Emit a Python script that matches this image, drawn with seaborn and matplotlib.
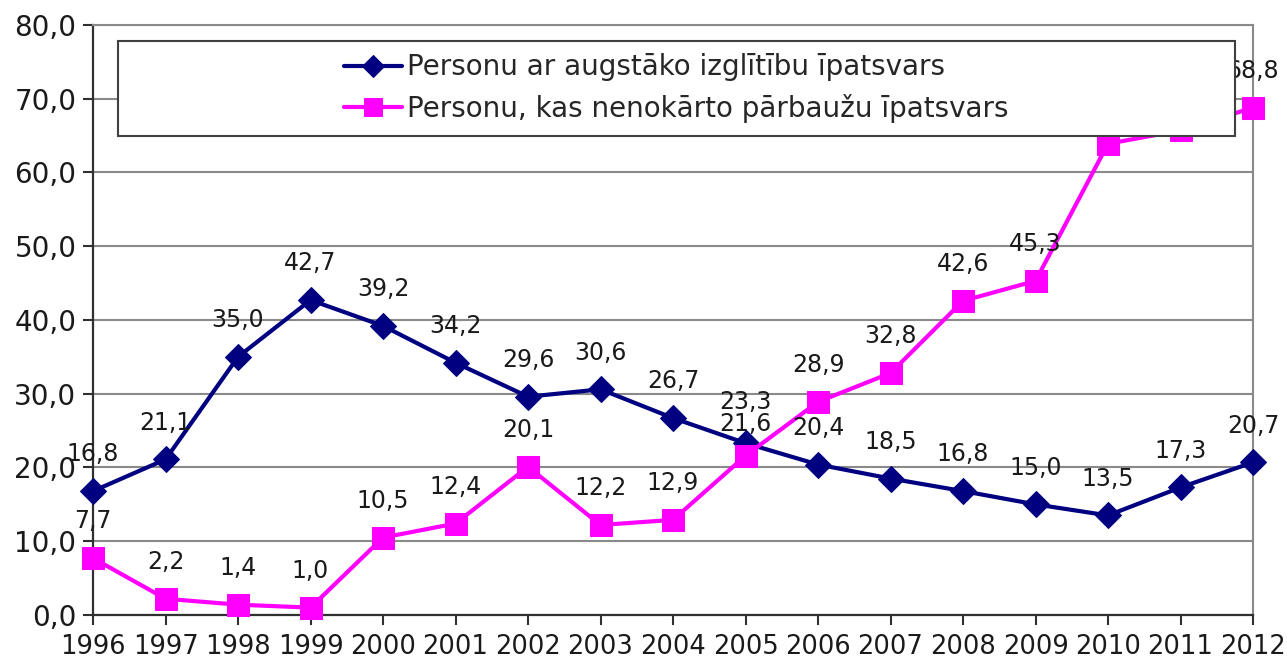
import matplotlib
matplotlib.use("Agg")
import matplotlib.pyplot as plt
from matplotlib.patches import Rectangle
from matplotlib.ticker import FuncFormatter
import seaborn as sns
import pandas as pd

years = [1996, 1997, 1998, 1999, 2000, 2001, 2002, 2003, 2004, 2005,
         2006, 2007, 2008, 2009, 2010, 2011, 2012]
higher_edu = [16.8, 21.1, 35.0, 42.7, 39.2, 34.2, 29.6, 30.6, 26.7, 23.3,
              20.4, 18.5, 16.8, 15.0, 13.5, 17.3, 20.7]
failed_exams = [7.7, 2.2, 1.4, 1.0, 10.5, 12.4, 20.1, 12.2, 12.9, 21.6,
                28.9, 32.8, 42.6, 45.3, 63.9, 65.7, 68.8]
label_higher = "Personu ar augstāko izglītību īpatsvars"
label_failed = "Personu, kas nenokārto pārbaužu īpatsvars"
y_ticks = [0, 10, 20, 30, 40, 50, 60, 70, 80]

sns.set_style("white")
plt.rcParams['font.family'] = ['DejaVu Sans']

df = pd.DataFrame({"year": years, "higher": higher_edu, "failed": failed_exams})

fig = plt.figure(figsize=(12.87, 6.61), dpi=100)
ax = fig.add_axes([0.0723, 0.0696, 0.9013, 0.8926])

navy = "#000080"
magenta = "#FF00FF"

sns.lineplot(data=df, x="year", y="higher", ax=ax, color=navy, lw=3,
             marker="D", markersize=13.5, markeredgecolor=navy,
             label=label_higher, clip_on=False, zorder=3)
sns.lineplot(data=df, x="year", y="failed", ax=ax, color=magenta, lw=3,
             marker="s", markersize=16, markeredgecolor=magenta,
             label=label_failed, clip_on=False, zorder=3)

def fmt(v):
    return f"{v:.1f}".replace(".", ",")

# label offsets (points above the marker); 2005 labels nudged as in the source
base_off = 26.5
special_off = {("higher", 2005): 29.5, ("failed", 2005): 23.0}

for key, series in (("higher", higher_edu), ("failed", failed_exams)):
    for x, v in zip(years, series):
        off = special_off.get((key, x), base_off)
        ax.annotate(fmt(v), (x, v), xytext=(0, off), textcoords="offset points",
                    ha="center", va="center", fontsize=17, color="#1a1a1a",
                    zorder=3, annotation_clip=False)

ax.set_xlim(1996, 2012)
ax.set_ylim(0, 80)
ax.set_xticks(years)
ax.set_xticklabels([str(y) for y in years])
ax.set_yticks(y_ticks)
ax.yaxis.set_major_formatter(FuncFormatter(lambda v, p: fmt(v)))
ax.set_xlabel("")
ax.set_ylabel("")

ax.grid(axis="y", color="#8a8a8a", lw=1.5)
ax.grid(axis="x", visible=False)
ax.set_axisbelow(True)

for s in ("left", "bottom"):
    ax.spines[s].set_color("#303030")
    ax.spines[s].set_linewidth(1.6)
for s in ("right", "top"):
    ax.spines[s].set_color("#8a8a8a")
    ax.spines[s].set_linewidth(1.5)

ax.tick_params(axis="x", which="major", direction="out", length=7, width=1.5,
               color="#303030", labelsize=18.5, pad=7, labelcolor="#1a1a1a", bottom=True)
ax.tick_params(axis="y", which="major", direction="out", length=7, width=1.5,
               color="#303030", labelsize=20, pad=5, labelcolor="#1a1a1a", left=True)

# legend box
box = Rectangle((0.0216, 0.812), 0.9629, 0.161, transform=ax.transAxes,
                facecolor="white", edgecolor="#404040", lw=1.5, zorder=4.5)
ax.add_patch(box)

handles, labels = ax.get_legend_handles_labels()
leg = ax.legend(handles, labels, loc="center", bbox_to_anchor=(0.5026, 0.893),
                frameon=False, fontsize=20, handlelength=2.1, handletextpad=0.15,
                labelspacing=0.45, markerscale=0.8, borderpad=0.0)
leg.set_zorder(6)

fig.savefig("out.png", dpi=100)
